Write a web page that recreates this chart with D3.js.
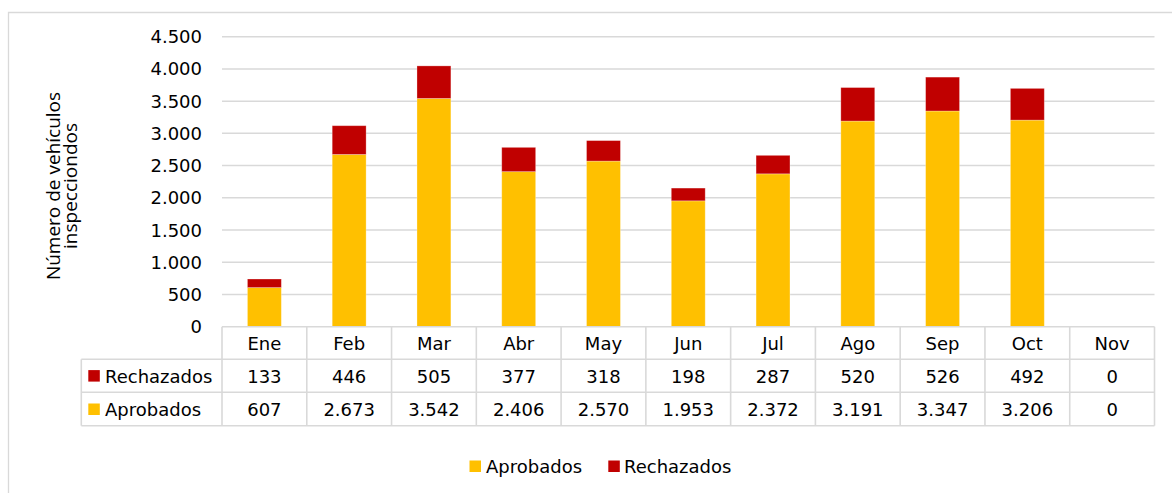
<!DOCTYPE html>
<html>
<head>
<meta charset="utf-8">
<script src="https://cdn.jsdelivr.net/npm/d3@7"></script>
<style>
  html, body { margin: 0; padding: 0; background: #fff; }
  svg { display: block; }
  text { font-family: "DejaVu Sans", sans-serif; fill: #000; }
</style>
</head>
<body>
<svg id="chart" width="1172" height="493"></svg>
<script>
const months = ["Ene","Feb","Mar","Abr","May","Jun","Jul","Ago","Sep","Oct","Nov"];
const aprobados = [607, 2673, 3542, 2406, 2570, 1953, 2372, 3191, 3347, 3206, 0];
const rechazados = [133, 446, 505, 377, 318, 198, 287, 520, 526, 492, 0];
const yTicks = [0, 500, 1000, 1500, 2000, 2500, 3000, 3500, 4000, 4500];
const seriesNames = ["Aprobados", "Rechazados"];
const colors = { Aprobados: "#FFC000", Rechazados: "#C00000" };
const yTitle = ["Número de vehículos", "inspeccіondos"];

const svg = d3.select("#chart");
const plotL = 222, plotR = 1154.5, plotT = 36.7, plotB = 326.7;
const tableL = 81.3;
const rowEdges = [326.7, 359.3, 392.3, 425.7];
const gridColor = "#d9d9d9";
const fmt = d3.formatLocale({ decimal: ",", thousands: ".", grouping: [3], currency: ["", ""] }).format(",d");

const x = d3.scaleBand().domain(months).range([plotL, plotR]).padding(0);
const y = d3.scaleLinear().domain([0, 4500]).range([plotB, plotT]);

// outer chart border
svg.append("path").attr("d", "M8.5,493 V12.5 H1172")
  .attr("fill", "none").attr("stroke", gridColor).attr("stroke-width", 1.3);

// gridlines
svg.append("g").selectAll("line").data(yTicks.filter(d => d > 0)).join("line")
  .attr("x1", plotL).attr("x2", plotR)
  .attr("y1", d => y(d)).attr("y2", d => y(d))
  .attr("stroke", gridColor).attr("stroke-width", 1.5);

// y tick labels
svg.append("g").selectAll("text").data(yTicks).join("text")
  .attr("x", 202).attr("y", d => y(d) + 6.5)
  .attr("text-anchor", "end").attr("font-size", 18)
  .text(d => fmt(d));

// y title
const yt = svg.append("text")
  .attr("transform", "translate(59.5,186) rotate(-90)")
  .attr("text-anchor", "middle")
  .style("font-family", "'Open Sans', sans-serif").attr("font-size", 19);
yt.selectAll("tspan").data(yTitle).join("tspan")
  .attr("x", 0).attr("y", (d, i) => i * 17.5).text(d => d);

// stacked bars
const data = months.map((m, i) => ({ month: m, Aprobados: aprobados[i], Rechazados: rechazados[i] }));
const stack = d3.stack().keys(seriesNames)(data);
const barW = x.bandwidth() * 0.4;
svg.append("g").selectAll("g").data(stack).join("g")
  .attr("fill", d => colors[d.key])
  .selectAll("rect").data(d => d).join("rect")
  .attr("x", d => x(d.data.month) + (x.bandwidth() - barW) / 2)
  .attr("width", barW)
  .attr("y", d => y(d[1]))
  .attr("height", d => y(d[0]) - y(d[1]))
  .attr("stroke", "rgba(255,255,255,0.35)").attr("stroke-width", 0.8);

// data table
const tg = svg.append("g");
const lineAttr = sel => sel.attr("stroke", gridColor).attr("stroke-width", 1.6).attr("fill", "none");
tg.append("line").attr("x1", plotL).attr("x2", plotR).attr("y1", rowEdges[0]).attr("y2", rowEdges[0]).call(lineAttr);
[1, 2, 3].forEach(i => {
  tg.append("line").attr("x1", tableL).attr("x2", plotR).attr("y1", rowEdges[i]).attr("y2", rowEdges[i]).call(lineAttr);
});
tg.append("line").attr("x1", tableL).attr("x2", tableL).attr("y1", rowEdges[1]).attr("y2", rowEdges[3]).call(lineAttr);
months.forEach(m => {
  tg.append("line").attr("x1", x(m)).attr("x2", x(m)).attr("y1", rowEdges[0]).attr("y2", rowEdges[3]).call(lineAttr);
});
tg.append("line").attr("x1", plotR).attr("x2", plotR).attr("y1", rowEdges[0]).attr("y2", rowEdges[3]).call(lineAttr);

// header
tg.selectAll("text.hdr").data(months).join("text").attr("class", "hdr")
  .attr("x", d => x(d) + x.bandwidth() / 2).attr("y", rowEdges[1] - 9.5)
  .attr("text-anchor", "middle").attr("font-size", 18).text(d => d);

const rows = [
  { name: "Rechazados", values: rechazados },
  { name: "Aprobados", values: aprobados }
];
rows.forEach((r, ri) => {
  const base = rowEdges[ri + 2] - 9.7;
  tg.append("rect").attr("x", 88.3).attr("y", base - 12.5).attr("width", 11.5).attr("height", 11.5)
    .attr("fill", colors[r.name]);
  tg.append("text").attr("x", 105).attr("y", base).attr("font-size", 18).text(r.name);
  tg.selectAll("text.v" + ri).data(r.values).join("text").attr("class", "v" + ri)
    .attr("x", (d, i) => x(months[i]) + x.bandwidth() / 2).attr("y", base)
    .attr("text-anchor", "middle").attr("font-size", 18).text(d => fmt(d));
});

// bottom legend
const legendItems = [
  { name: "Aprobados", sx: 469.5, tx: 486 },
  { name: "Rechazados", sx: 608.3, tx: 624 }
];
const lg = svg.append("g");
legendItems.forEach(it => {
  lg.append("rect").attr("x", it.sx).attr("y", 460.5).attr("width", 11.5).attr("height", 11.5).attr("fill", colors[it.name]);
  lg.append("text").attr("x", it.tx).attr("y", 472.5).attr("font-size", 18).text(it.name);
});
</script>
</body>
</html>
